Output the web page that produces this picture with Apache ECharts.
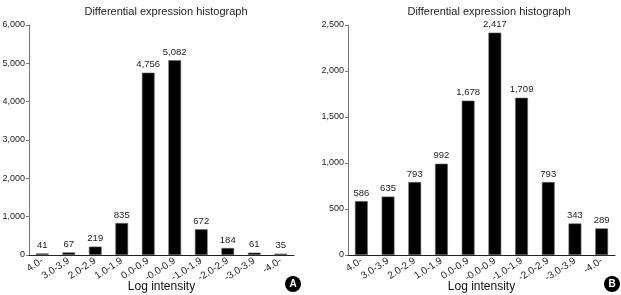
<!DOCTYPE html>
<html><head><meta charset="utf-8">
<script src="https://cdn.jsdelivr.net/npm/echarts@6/dist/echarts.min.js"></script>
<style>html,body{margin:0;padding:0;background:#fff}#c{width:621px;height:295px}</style>
</head><body><div id="c"></div>
<script>
const categories = ['4.0-','3.0-3.9','2.0-2.9','1.0-1.9','0.0-0.9','-0.0-0.9','-1.0-1.9','-2.0-2.9','-3.0-3.9','-4.0-'];
const valuesA = [41, 67, 219, 835, 4756, 5082, 672, 184, 61, 35];
const valuesB = [586, 635, 793, 992, 1678, 2417, 1709, 793, 343, 289];
const ticksA = [0, 1000, 2000, 3000, 4000, 5000, 6000];
const ticksB = [0, 500, 1000, 1500, 2000, 2500];
const title = 'Differential expression histograph';
const axisName = 'Log intensity';

const font = 'Liberation Sans, Arial, sans-serif';
const fmt = v => v.toLocaleString('en-US');
const chart = echarts.init(document.getElementById('c'));

function xAxis(gi) {
  return {
    type: 'category', gridIndex: gi, data: categories,
    axisLine: {lineStyle: {color: '#222', width: 1}},
    axisTick: {show: false},
    axisLabel: {rotate: 33, fontSize: 10, color: '#222', fontFamily: font, margin: 5, interval: 0},
    name: axisName, nameLocation: 'middle', nameGap: 26, nameMoveOverlap: false,
    nameTextStyle: {fontSize: 12, color: '#111', fontFamily: font}
  };
}
function yAxis(gi, ticks) {
  const step = ticks[1] - ticks[0];
  return {
    type: 'value', gridIndex: gi, min: ticks[0], max: ticks[ticks.length - 1], interval: step,
    axisLine: {show: true, lineStyle: {color: '#777', width: 1}},
    axisTick: {show: true, length: 3, lineStyle: {color: '#777'}},
    splitLine: {show: false},
    axisLabel: {fontSize: 9, color: '#222', fontFamily: font, margin: 4, formatter: fmt}
  };
}
function series(gi, vals) {
  return {
    type: 'bar', xAxisIndex: gi, yAxisIndex: gi, data: vals, barWidth: '48%',
    itemStyle: {color: '#000', borderColor: '#666', borderWidth: 0.6},
    label: {show: true, position: 'top', distance: 3, fontSize: 9.5, color: '#222', fontFamily: font, formatter: p => fmt(p.value)}
  };
}

chart.setOption({
  animation: false,
  title: [
    {text: title, left: 161, top: 1, textAlign: 'center', textStyle: {fontSize: 11, fontWeight: 'normal', color: '#222', fontFamily: font}},
    {text: title, left: 484, top: 1, textAlign: 'center', textStyle: {fontSize: 11, fontWeight: 'normal', color: '#222', fontFamily: font}}
  ],
  grid: [
    {left: 29, right: 327, top: 25, bottom: 40, containLabel: false, outerBoundsMode: 'none'},
    {left: 348, right: 6, top: 25, bottom: 40, containLabel: false, outerBoundsMode: 'none'}
  ],
  xAxis: [xAxis(0), xAxis(1)],
  yAxis: [yAxis(0, ticksA), yAxis(1, ticksB)],
  series: [series(0, valuesA), series(1, valuesB)],
  graphic: [
    {type: 'circle', shape: {cx: 293, cy: 284, r: 8}, style: {fill: '#000'}},
    {type: 'text', x: 293, y: 284, style: {text: 'A', fill: '#fff', font: 'bold 10px ' + font, align: 'center', verticalAlign: 'middle'}},
    {type: 'circle', shape: {cx: 612, cy: 284, r: 8}, style: {fill: '#000'}},
    {type: 'text', x: 612, y: 284, style: {text: 'B', fill: '#fff', font: 'bold 10px ' + font, align: 'center', verticalAlign: 'middle'}}
  ]
});
</script>
</body></html>
